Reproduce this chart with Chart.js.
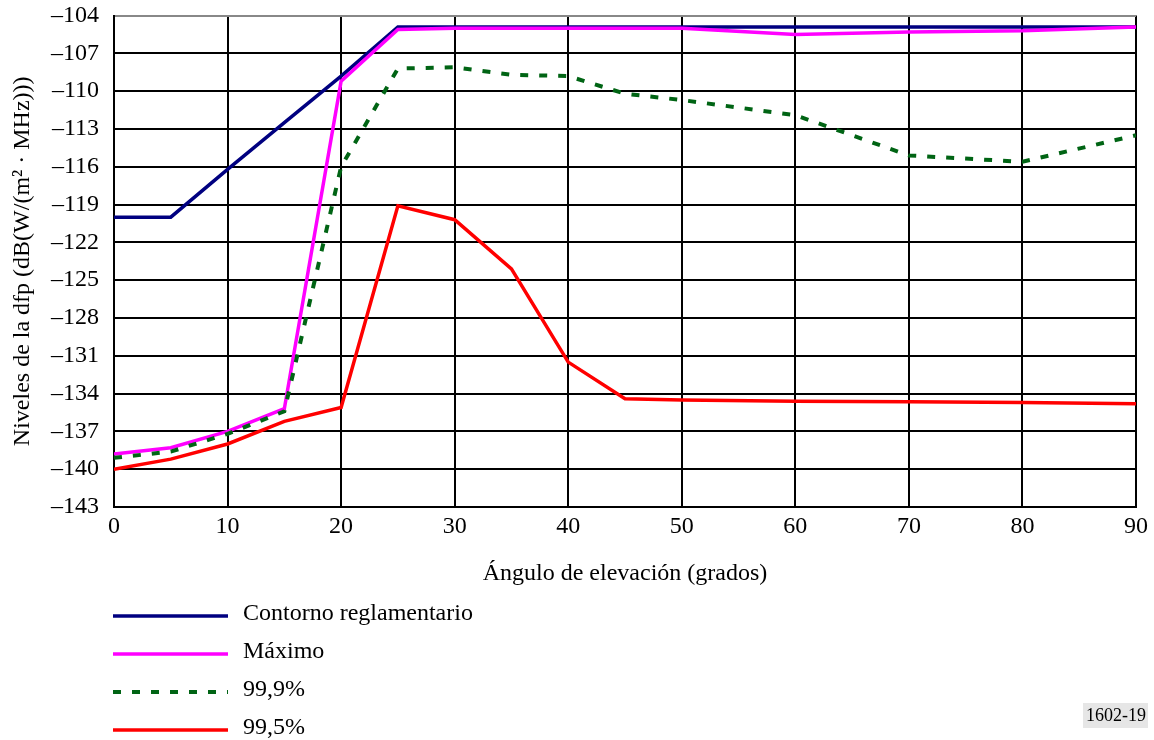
<!DOCTYPE html>
<html>
<head>
<meta charset="utf-8">
<title>Niveles de la dfp</title>
<script src="https://cdn.jsdelivr.net/npm/chart.js@4.4.1/dist/chart.umd.min.js"></script>
<style>
    html, body { margin: 0; padding: 0; background: #fff; }
    canvas { display: block; }
</style>
</head>
<body>
<canvas id="dfpChart" width="1154" height="740"></canvas>
<script>
// ángulos de elevación (grados)
const angles = [0, 5, 10, 15, 20, 25, 30, 35, 40, 45, 50, 60, 70, 80, 90];

// niveles de dfp, dB(W/(m² · MHz))
const contorno = [-120, -120, -116.2, -112.5, -108.8, -104.9, -104.9, -104.9, -104.9, -104.9, -104.9, -104.9, -104.9, -104.9, -104.9];
const maximo = [-138.8, -138.3, -137.0, -135.2, -109.2, -105.1, -105.0, -105.0, -105.0, -105.0, -105.0, -105.5, -105.3, -105.2, -104.9];
const p999 = [-139.1, -138.6, -137.2, -135.4, -116.0, -108.2, -108.1, -108.7, -108.8, -110.2, -110.7, -111.9, -115.1, -115.6, -113.5];
const p995 = [-140.0, -139.2, -138.0, -136.2, -135.1, -119.1, -120.2, -124.1, -131.5, -134.4, -134.5, -134.6, -134.65, -134.7, -134.8];

const seriesNames = ["Contorno reglamentario", "Máximo", "99,9%", "99,5%"];
const yTicksMin = -143;
const yTicksMax = -104;
const figureLabel = "1602-19";

const FONT = "'Liberation Serif', 'Times New Roman', serif";

function toPoints(values) {
    return angles.map(function(a, i) { return { x: a, y: values[i] }; });
}

// leyenda dibujada debajo del gráfico, una fila por serie
const bottomLegend = {
    id: 'bottomLegend',
    afterDraw(chart) {
        const ctx = chart.ctx;
        ctx.save();
        chart.data.datasets.forEach(function(ds, i) {
            const y = 616 + i * 38;
            ctx.beginPath();
            ctx.strokeStyle = ds.borderColor;
            ctx.lineWidth = ds.borderWidth;
            ctx.setLineDash(ds.borderDash || []);
            ctx.moveTo(113, y);
            ctx.lineTo(228, y);
            ctx.stroke();
            ctx.setLineDash([]);
            ctx.fillStyle = '#000';
            ctx.font = "24px " + FONT;
            ctx.textBaseline = 'middle';
            ctx.textAlign = 'left';
            ctx.fillText(ds.label, 243, y - 2);
        });
        // número de figura
        ctx.fillStyle = '#e6e6e6';
        ctx.fillRect(1083, 703, 65, 25);
        ctx.fillStyle = '#000';
        ctx.font = "18px " + FONT;
        ctx.textBaseline = 'middle';
        ctx.textAlign = 'left';
        ctx.fillText(figureLabel, 1086, 716);
        ctx.restore();
    }
};

document.addEventListener("DOMContentLoaded", function() {
    const ctx = document.getElementById("dfpChart").getContext("2d");
    new Chart(ctx, {
        type: 'line',
        data: {
            datasets: [{
                label: seriesNames[0],
                data: toPoints(contorno),
                borderColor: '#000080',
                borderWidth: 3.5,
                order: 3
            }, {
                label: seriesNames[1],
                data: toPoints(maximo),
                borderColor: '#ff00ff',
                borderWidth: 3.5,
                order: 2
            }, {
                label: seriesNames[2],
                data: toPoints(p999),
                borderColor: '#006414',
                borderWidth: 4,
                borderDash: [8, 11],
                order: 1
            }, {
                label: seriesNames[3],
                data: toPoints(p995),
                borderColor: '#ff0000',
                borderWidth: 3.5,
                order: 0
            }]
        },
        options: {
            responsive: false,
            animation: false,
            layout: { padding: { top: 0, right: 18, bottom: 0, left: 0 } },
            elements: {
                point: { radius: 0, hoverRadius: 0 },
                line: { tension: 0, fill: false }
            },
            scales: {
                x: {
                    type: 'linear',
                    min: 0,
                    max: 90,
                    ticks: {
                        stepSize: 10,
                        padding: 5,
                        color: '#000',
                        font: { family: FONT, size: 24 }
                    },
                    grid: { color: '#000', lineWidth: 2, drawTicks: false },
                    border: { color: '#000', width: 2 },
                    title: {
                        display: true,
                        text: 'Ángulo de elevación (grados)',
                        color: '#000',
                        font: { family: FONT, size: 24 },
                        padding: { top: 0, bottom: 152 }
                    },
                    afterFit: function(scale) { scale.height = 233; }
                },
                y: {
                    type: 'linear',
                    min: yTicksMin,
                    max: yTicksMax,
                    ticks: {
                        stepSize: 3,
                        padding: 15,
                        color: '#000',
                        // lineHeight pequeño para que el primer rótulo no empuje el área hacia abajo
                        font: { family: FONT, size: 24, lineHeight: 0.05 },
                        callback: function(value) {
                            return (value < 0 ? '\u2013' : '') + Math.abs(value);
                        }
                    },
                    grid: {
                        color: function(c) { return c.tick && c.tick.value === yTicksMax ? '#888' : '#000'; },
                        lineWidth: 2,
                        drawTicks: false
                    },
                    border: { color: '#000', width: 2 },
                    title: {
                        display: true,
                        text: 'Niveles de la dfp (dB(W/(m² · MHz)))',
                        color: '#000',
                        font: { family: FONT, size: 24 },
                        padding: { top: 8, bottom: 0 }
                    },
                    afterFit: function(scale) { scale.width = 114; }
                }
            },
            plugins: {
                legend: { display: false },
                tooltip: { enabled: false }
            }
        },
        plugins: [bottomLegend]
    });
});
</script>
</body>
</html>
